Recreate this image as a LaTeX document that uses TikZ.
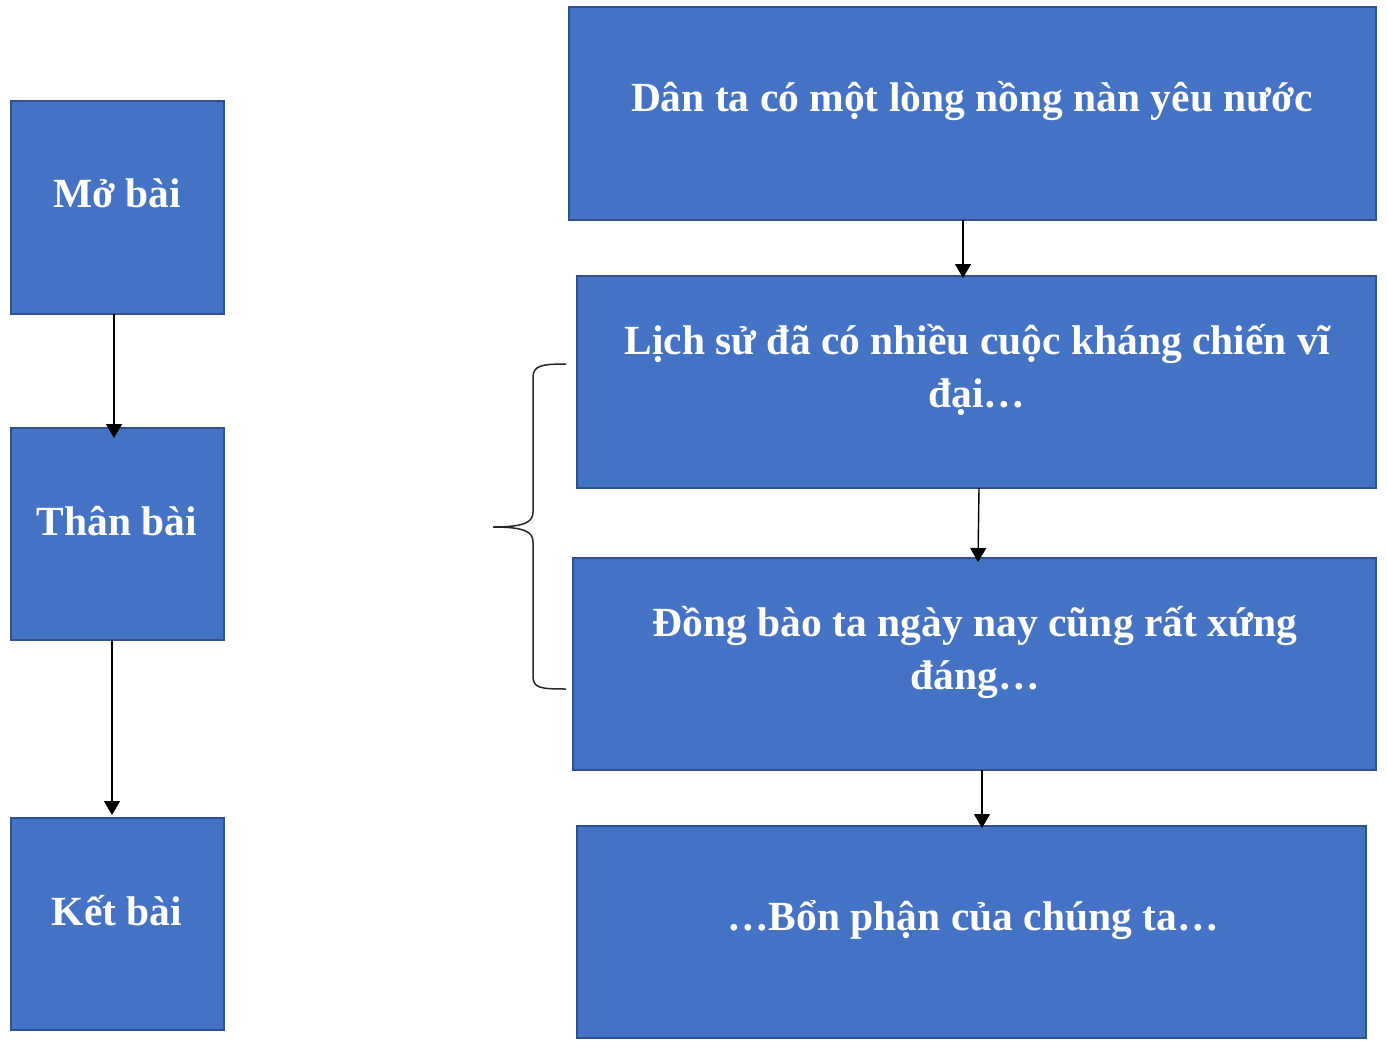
\documentclass[tikz,border=0pt]{standalone}
\usepackage{fontspec}
\setmainfont{Liberation Serif}
\usetikzlibrary{arrows.meta,calc}
\definecolor{boxfill}{HTML}{4472C4}
\definecolor{boxline}{HTML}{2F528F}
\begin{document}
\begin{tikzpicture}[x=1pt,y=-1pt,
  box/.style={draw=boxline,line width=1.2pt,fill=boxfill,rectangle,inner sep=0pt,outer sep=0pt},
  lbl/.style={text=white,font=\fontsize{41.5}{53}\selectfont\bfseries,align=center,inner sep=0pt},
  conn/.style={line width=1.4pt,-{Triangle[width=16pt,length=14pt]}},
  bracestyle/.style={line width=1.5pt,draw=black!85}]
\path[fill=white,use as bounding box] (0,0) rectangle (1387,1041);
% left column
\node[box,minimum width=213pt,minimum height=213pt] (mo) at (117.5,207.5) {};
\node[box,minimum width=213pt,minimum height=212pt] (than) at (117.5,534) {};
\node[box,minimum width=213pt,minimum height=212pt] (ket) at (117.5,924) {};
\node[lbl] (tmo) at (117,193) {Mở bài};
\node[lbl] (tthan) at (117,521) {Thân bài};
\node[lbl] (tket) at (117,911) {Kết bài};
% right column
\node[box,minimum width=807pt,minimum height=213pt] (b1) at (972.5,113.5) {};
\node[box,minimum width=799pt,minimum height=212pt] (b2) at (976.5,382) {};
\node[box,minimum width=803pt,minimum height=212pt] (b3) at (974.5,664) {};
\node[box,minimum width=789pt,minimum height=212pt] (b4) at (971.5,932) {};
\node[lbl] (t1) at (972,101) {Dân ta có một lòng nồng nàn yêu nước};
\node[lbl] (t2) at (977,370) {Lịch sử đã có nhiều cuộc kháng chiến vĩ\\đại…};
\node[lbl] (t3) at (975,652) {Đồng bào ta ngày nay cũng rất xứng\\đáng…};
\node[lbl] (t4) at (973,920) {…Bổn phận của chúng ta…};
% connectors
\draw[conn] ([xshift=-3.5pt]mo.south) -- ([xshift=-3.5pt,yshift=-10pt]than.north);
\draw[conn] ([xshift=-5.5pt]than.south) -- ([xshift=-5.5pt,yshift=3pt]ket.north);
\draw[conn] ([xshift=-9.5pt]b1.south) -- ([xshift=-13.5pt,yshift=-2pt]b2.north);
\draw[conn] ([xshift=2.5pt]b2.south) -- ([xshift=3.5pt,yshift=-4pt]b3.north);
\draw[conn] ([xshift=7.5pt]b3.south) -- ([xshift=10.5pt,yshift=-2pt]b4.north);
% brace
\coordinate (btop) at (566,364);
\coordinate (bbot) at (566,689);
\coordinate (btip) at (493,527);
\draw[bracestyle] (btop) .. controls (540,364) and (533,366) .. (533,378) -- (533,512)
  .. controls (533,522) and (525,527) .. (btip)
  .. controls (525,527) and (533,532) .. (533,542) -- (533,676)
  .. controls (533,688) and (540,689) .. (bbot);
\end{tikzpicture}
\end{document}
